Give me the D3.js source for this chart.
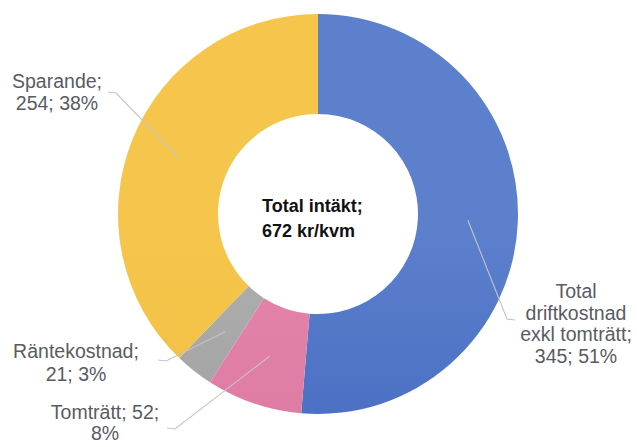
<!DOCTYPE html>
<html>
<head>
<meta charset="utf-8">
<script src="https://cdn.jsdelivr.net/npm/d3@7"></script>
<style>
  html, body { margin: 0; padding: 0; background: #fff; }
  svg { display: block; }
</style>
</head>
<body>
<script>
// data
const categories = ["Total driftkostnad exkl tomträtt", "Tomträtt", "Räntekostnad", "Sparande"];
const values = [345, 52, 21, 254];
const percents = [51, 8, 3, 38];
const labelLines = [
  ["Total", "driftkostnad", "exkl tomträtt;", "345; 51%"],
  ["Tomträtt; 52;", "8%"],
  ["Räntekostnad;", "21; 3%"],
  ["Sparande;", "254; 38%"]
];
const centerLines = ["Total intäkt;", "672 kr/kvm"];

// colours: top / bottom of a vertical gradient, like the office fill
const colorsTop = ["#5c80cc", "#e584ab", "#b0b0b0", "#f6c64c"];
const colorsBottom = ["#3960bc", "#d9739c", "#959595", "#ebb73a"];

const width = 637, height = 447;
const cx = 318, cy = 214;
const outerR = 200, innerR = 100;

// where each label sits (layout only): text centre x, first baseline y, line step,
// plus the elbow end of the leader line
const labelPos = [
  {x: 576, y: 298, step: 21.7, ex: 515, ey: 320, side: "right"},
  {x: 105, y: 419, step: 21, ex: 167, ey: 428, side: "left"},
  {x: 76, y: 358, step: 22.5, ex: 158, ey: 360, side: "left"},
  {x: 57, y: 88, step: 21.5, ex: 108, ey: 92, side: "left"}
];

const svg = d3.select("body").append("svg")
  .attr("width", width)
  .attr("height", height);

const defs = svg.append("defs");
categories.forEach((c, i) => {
  const g = defs.append("linearGradient")
    .attr("id", "grad" + i)
    .attr("gradientUnits", "userSpaceOnUse")
    .attr("x1", 0).attr("x2", 0)
    .attr("y1", cy - outerR).attr("y2", cy + outerR);
  g.append("stop").attr("offset", "0%").attr("stop-color", colorsTop[i]);
  g.append("stop").attr("offset", "100%").attr("stop-color", colorsBottom[i]);
});

const pie = d3.pie().sort(null).value(d => d);
const arcs = pie(values);

const arc = d3.arc().innerRadius(innerR).outerRadius(outerR);
const midArc = d3.arc().innerRadius(150).outerRadius(150);

const chart = svg.append("g").attr("transform", `translate(${cx},${cy})`);

chart.selectAll("path.slice")
  .data(arcs)
  .join("path")
  .attr("class", "slice")
  .attr("d", arc)
  .attr("fill", (d, i) => `url(#grad${i})`);

// leader lines from the slice centroid to the label
const leaders = svg.append("g");
arcs.forEach((d, i) => {
  const c = midArc.centroid(d);
  const p = labelPos[i];
  const start = [cx + c[0], cy + c[1]];
  const elbowX = p.side === "left" ? p.ex + 8 : p.ex - 8;
  const pts = [start, [elbowX, p.ey + (p.side === "left" ? 1 : -1)], [p.ex, p.ey]];
  leaders.append("path")
    .attr("d", d3.line()(pts))
    .attr("fill", "none")
    .attr("stroke", "#c4c4c4")
    .attr("stroke-width", 1.1);
});

// labels
const labels = svg.append("g")
  .attr("font-family", "'Liberation Sans', Arial, sans-serif")
  .attr("font-size", 19.5)
  .attr("fill", "#595b63");
labelLines.forEach((lines, i) => {
  const p = labelPos[i];
  const t = labels.append("text")
    .attr("text-anchor", "middle");
  lines.forEach((l, j) => {
    t.append("tspan")
      .attr("x", p.x)
      .attr("y", p.y + j * p.step)
      .text(l);
  });
});

// centre text
const ct = svg.append("text")
  .attr("font-family", "'Liberation Sans', Arial, sans-serif")
  .attr("font-size", 18)
  .attr("font-weight", "bold")
  .attr("fill", "#111");
centerLines.forEach((l, j) => {
  ct.append("tspan")
    .attr("x", cx - 56)
    .attr("y", 212 + j * 25)
    .text(l);
});
</script>
</body>
</html>
